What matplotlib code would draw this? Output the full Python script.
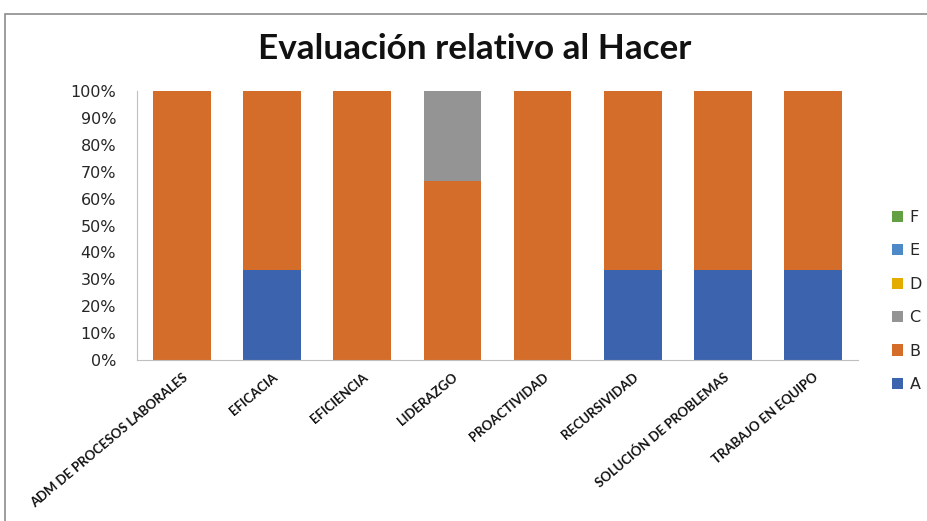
import matplotlib
matplotlib.use("Agg")
import matplotlib.pyplot as plt
from matplotlib.patches import Rectangle, Patch
import numpy as np

categories = ["ADM DE PROCESOS LABORALES", "EFICACIA", "EFICIENCIA", "LIDERAZGO",
              "PROACTIVIDAD", "RECURSIVIDAD", "SOLUCIÓN DE PROBLEMAS", "TRABAJO EN EQUIPO"]
series_names = ["A", "B", "C", "D", "E", "F"]
A = [0, 1, 0, 0, 0, 1, 1, 1]
B = [3, 2, 3, 2, 3, 2, 2, 2]
C = [0, 0, 0, 1, 0, 0, 0, 0]
D = [0, 0, 0, 0, 0, 0, 0, 0]
E = [0, 0, 0, 0, 0, 0, 0, 0]
F = [0, 0, 0, 0, 0, 0, 0, 0]
colors = ["#3C63AE", "#D46D2A", "#949494", "#E5AC00", "#4C89C6", "#62A043"]
yticks = ["0%", "10%", "20%", "30%", "40%", "50%", "60%", "70%", "80%", "90%", "100%"]

fam = ["Lato", "DejaVu Sans"]

fig = plt.figure(figsize=(9.27, 5.21), dpi=100)
fig.patches.append(Rectangle((5/927, -0.02), 1.1, 1 - 14/521 + 0.02, transform=fig.transFigure,
                             fill=False, edgecolor="#8c8c8c", linewidth=1.2))
ax = fig.add_axes([137/927, 1 - 360/521, (858 - 137)/927, (360 - 91)/521])

data = np.array([A, B, C, D, E, F], dtype=float)
totals = data.sum(axis=0)
pct = data / totals * 100
x = np.arange(len(categories))
bottom = np.zeros(len(categories))
for name, vals, c in zip(series_names, pct, colors):
    ax.bar(x, vals, bottom=bottom, width=0.64, color=c, label=name, zorder=2)
    bottom += vals

ax.set_xlim(-0.5, len(categories) - 0.5)
ax.set_ylim(0, 100)
ax.set_yticks(np.arange(0, 101, 10))
ax.set_yticklabels(yticks, fontsize=11.5, color="#262626")
ax.set_xticks(x)
xlabels = ax.set_xticklabels(categories, rotation=40, ha="right", va="top", rotation_mode="anchor",
                             fontsize=9.5, fontweight="bold", family=fam, color="#111111")
ax.tick_params(axis="y", length=0, pad=15)
ax.tick_params(axis="x", length=0, pad=8)
for s in ["top", "right"]:
    ax.spines[s].set_visible(False)
ax.spines["left"].set_color("#bfbfbf")
ax.spines["bottom"].set_color("#bfbfbf")

title = fig.text(475/927, 1 - 49/521, "Evaluación relativo al Hacer", ha="center", va="center",
                 fontsize=26, fontweight="bold", family=fam, color="#111111")

handles = [Patch(facecolor=c, label=n) for n, c in zip(series_names, colors)][::-1]
fig.legend(handles=handles, loc="center left", bbox_to_anchor=(884/927, 1 - 301/521),
           frameon=False, fontsize=11.5, handlelength=0.7, handleheight=0.7,
           handletextpad=0.4, labelspacing=1.15, borderpad=0, labelcolor="#262626")

# fit text widths to the reference
fig.canvas.draw()
r = fig.canvas.get_renderer()
w = title.get_window_extent(r).width
title.set_fontsize(26 * 434 / w)
lab = xlabels[0]
lab.set_rotation(0)
w0 = lab.get_window_extent(r).width
lab.set_rotation(40)
fs = 9.5 * 204 / w0
for t in xlabels:
    t.set_fontsize(fs)

fig.savefig("out.png", dpi=100)
